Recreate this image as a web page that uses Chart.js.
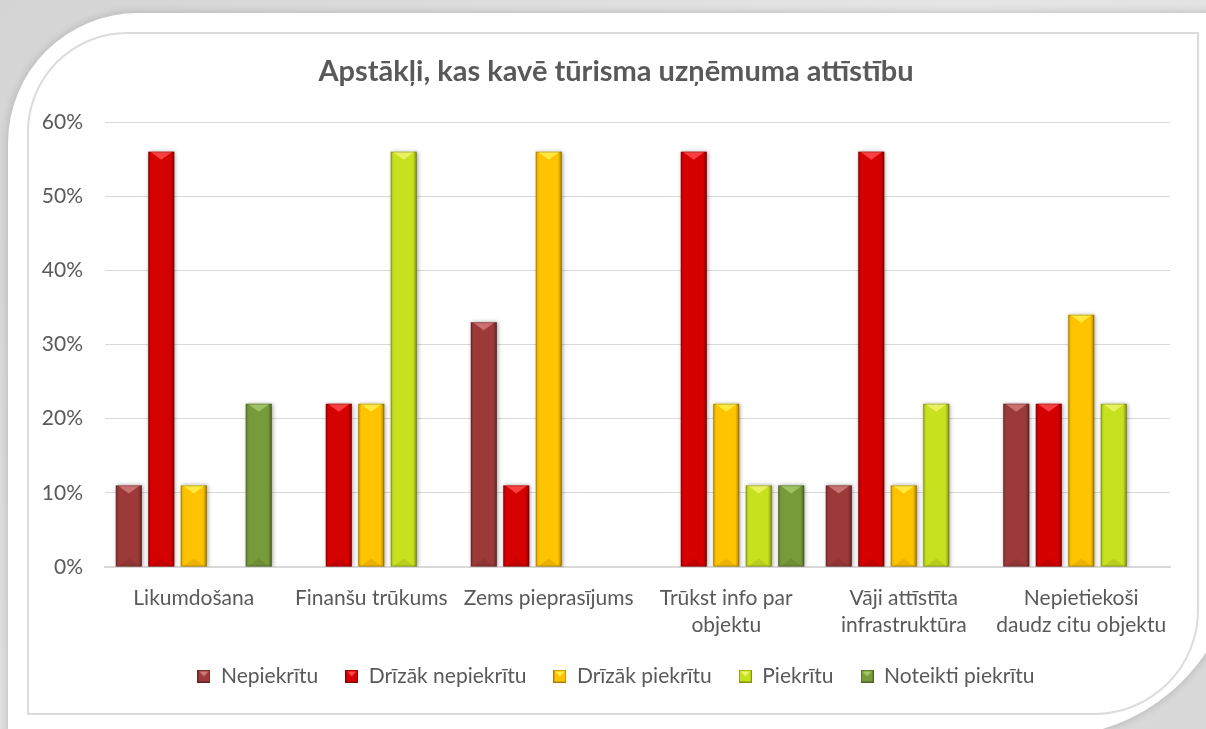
<!DOCTYPE html>
<html>
<head>
<meta charset="utf-8">
<script src="https://cdn.jsdelivr.net/npm/chart.js@4/dist/chart.umd.min.js"></script>
<style>
  html, body { margin: 0; padding: 0; }
  body {
    width: 1206px; height: 729px; overflow: hidden; position: relative;
    background: linear-gradient(135deg, #d4d4d4 0%, #e6e6e6 50%, #d8d8d8 100%);
  }
  #card {
    position: absolute; left: 8px; top: 13px; width: 1230px; height: 724px;
    background: #fff;
    border-top-left-radius: 130px;
    border-bottom-right-radius: 190px;
    box-shadow: 0 0 10px rgba(0,0,0,0.18);
  }
  #frame {
    position: absolute; left: 27px; top: 32px; width: 1168px; height: 679px;
    border: 2px solid #dcdcdc;
    border-top-left-radius: 100px;
    border-bottom-right-radius: 105px;
  }
  #chart { position: absolute; left: 0; top: 0; }
</style>
</head>
<body>
<div id="card"></div>
<div id="frame"></div>
<canvas id="chart" width="1206" height="729"></canvas>
<script>
const categories = [
    'Likumdošana',
    'Finanšu trūkums',
    'Zems pieprasījums',
    ['Trūkst info par', 'objektu'],
    ['Vāji attīstīta', 'infrastruktūra'],
    ['Nepietiekoši', 'daudz citu objektu']
];
const seriesNames = ['Nepiekrītu', 'Drīzāk nepiekrītu', 'Drīzāk piekrītu', 'Piekrītu', 'Noteikti piekrītu'];

const nepiekritu = [0.11, 0, 0.33, 0, 0.11, 0.22];
const drizakNepiekritu = [0.56, 0.22, 0.11, 0.56, 0.56, 0.22];
const drizakPiekritu = [0.11, 0.22, 0.56, 0.22, 0.11, 0.34];
const piekritu = [0, 0.56, 0, 0.11, 0.22, 0.22];
const noteiktiPiekritu = [0.22, 0, 0, 0.11, 0, 0];

const yTicks = [0, 0.1, 0.2, 0.3, 0.4, 0.5, 0.6];

const baseColors = ['#9c3a3a', '#d50000', '#ffc300', '#c7e11f', '#779a3b'];
const lightColors = ['#d27a7a', '#ff4a4a', '#fff04a', '#eef56a', '#a4c86a'];

const FONT = 'Lato, "Open Sans", sans-serif';
const TEXT = '#595959';

// small bevelled square for the legend, like the bars
function legendBox(i) {
    const c = document.createElement('canvas');
    c.width = 13; c.height = 13;
    const g = c.getContext('2d');
    g.fillStyle = baseColors[i];
    g.fillRect(0, 0, 13, 13);
    g.fillStyle = lightColors[i];
    g.beginPath();
    g.moveTo(2, 2); g.lineTo(11, 2); g.lineTo(6.5, 7); g.closePath();
    g.fill();
    g.strokeStyle = 'rgba(0,0,0,0.35)';
    g.strokeRect(0.5, 0.5, 12, 12);
    return c;
}

const bevelPlugin = {
    id: 'bevel',
    afterLayout(chart) {
        // y labels stick out left of the narrow axis box, don't clip them
        chart.scales.y.left = 0;
    },
    beforeDatasetsDraw(chart) {
        const ctx = chart.ctx;
        ctx.save();
        ctx.shadowColor = 'rgba(0,0,0,0.35)';
        ctx.shadowBlur = 4;
        ctx.shadowOffsetX = 1;
        ctx.shadowOffsetY = 0;
    },
    afterDatasetsDraw(chart) {
        const ctx = chart.ctx;
        ctx.restore();
        chart.data.datasets.forEach((ds, di) => {
            const meta = chart.getDatasetMeta(di);
            meta.data.forEach(el => {
                const p = el.getProps(['x', 'y', 'base', 'width'], true);
                const h = p.base - p.y;
                if (h < 1) return;
                const l = p.x - p.width / 2, r = p.x + p.width / 2;
                const b = Math.min(8, h / 2);
                ctx.save();
                // side shading
                const g = ctx.createLinearGradient(l, 0, r, 0);
                g.addColorStop(0, 'rgba(0,0,0,0.18)');
                g.addColorStop(0.12, 'rgba(0,0,0,0)');
                g.addColorStop(0.85, 'rgba(0,0,0,0)');
                g.addColorStop(1, 'rgba(0,0,0,0.32)');
                ctx.fillStyle = g;
                ctx.fillRect(l, p.y, p.width, h);
                // top bevel
                ctx.fillStyle = lightColors[di];
                ctx.globalAlpha = 0.85;
                ctx.beginPath();
                ctx.moveTo(l + 2, p.y);
                ctx.lineTo(r - 2, p.y);
                ctx.lineTo(p.x, p.y + b);
                ctx.closePath();
                ctx.fill();
                // bottom bevel
                ctx.globalAlpha = 1;
                ctx.fillStyle = 'rgba(0,0,0,0.08)';
                ctx.beginPath();
                ctx.moveTo(l + 2, p.base);
                ctx.lineTo(r - 2, p.base);
                ctx.lineTo(p.x, p.base - b);
                ctx.closePath();
                ctx.fill();
                ctx.strokeStyle = 'rgba(0,0,0,0.2)';
                ctx.lineWidth = 1;
                ctx.strokeRect(l + 0.5, p.y + 0.5, p.width - 1, h - 1);
                ctx.restore();
            });
        });
    }
};

const seriesValues = [nepiekritu, drizakNepiekritu, drizakPiekritu, piekritu, noteiktiPiekritu];

new Chart(document.getElementById('chart'), {
    type: 'bar',
    data: {
        labels: categories,
        datasets: seriesValues.map((vals, i) => ({
            label: seriesNames[i],
            data: vals,
            backgroundColor: baseColors[i],
            borderWidth: 0,
            pointStyle: legendBox(i),
            categoryPercentage: 0.915,
            barPercentage: 0.8
        }))
    },
    options: {
        responsive: false,
        animation: false,
        devicePixelRatio: 1,
        layout: { padding: { left: 62, right: 36, top: 40, bottom: 32.5 } },
        plugins: {
            title: {
                display: true,
                text: 'Apstākļi, kas kavē tūrisma uzņēmuma attīstību',
                color: TEXT,
                font: { family: FONT, size: 29, weight: 'bold' },
                padding: { top: 14.6, bottom: 32.6 }
            },
            legend: {
                position: 'bottom',
                labels: {
                    usePointStyle: true,
                    color: TEXT,
                    font: { family: FONT, size: 21 },
                    boxWidth: 13,
                    boxHeight: 13,
                    padding: 27
                }
            },
            tooltip: { enabled: false }
        },
        scales: {
            x: {
                afterFit: s => { s.height = 71.5; },
                grid: { display: false, drawTicks: false },
                border: { color: '#d9d9d9', width: 2 },
                ticks: {
                    color: TEXT,
                    font: { family: FONT, size: 21, lineHeight: 27 / 21 },
                    padding: 17.5,
                    maxRotation: 0,
                    autoSkip: false
                }
            },
            y: {
                min: 0,
                max: 0.6,
                afterBuildTicks: s => { s.ticks = yTicks.map(v => ({ value: v })); },
                afterFit: s => { s.width = 43; },
                grid: { color: '#d9d9d9', drawTicks: false },
                border: { display: false },
                ticks: {
                    color: TEXT,
                    font: { family: FONT, size: 21 },
                    padding: 22,
                    callback: v => Math.round(v * 100) + '%'
                }
            }
        }
    },
    plugins: [bevelPlugin]
});
</script>
</body>
</html>
